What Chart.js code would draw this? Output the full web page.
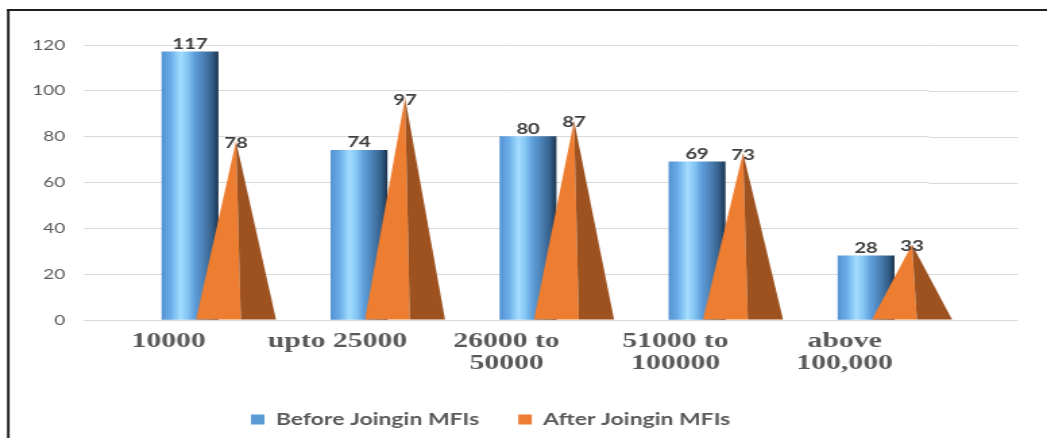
<!DOCTYPE html>
<html>
<head>
<meta charset="utf-8">
<script src="https://cdn.jsdelivr.net/npm/chart.js@4/dist/chart.umd.min.js"></script>
<style>
  html, body { margin: 0; padding: 0; background: #ffffff; overflow: hidden; }
</style>
</head>
<body>
<canvas id="c" width="776" height="438" style="display:block;width:1047px;height:438px"></canvas>
<script>
// ---- data ----
const categories = ['10000', 'upto 25000', ['26000 to', '50000'], ['51000 to', '100000'], ['above', '100,000']];
const beforeValues = [117, 74, 80, 69, 28];
const afterValues = [78, 97, 87, 73, 33];
const yTickValues = [0, 20, 40, 60, 80, 100, 120];
const seriesNames = ['Before Joingin MFIs', 'After Joingin MFIs'];

// ---- styles ----
const BEFORE_W = 41.5, AFTER_W = 59.3;
const BEFORE_SHIFT = 15.9, AFTER_SHIFT = 50;
const GRID_EXT_RIGHT = 754.5;
const PAD = { left: 14, right: 87.4, top: 45, bottom: 0 };
const PLOT_LEFT = 62.3, PLOT_BOTTOM = 320;
const LEGEND_CENTER = 363.6;
const ORANGE = '#ED7D31', ORANGE_DARK = '#9E5220', BLUE = '#5B9BD5';

function beforeFill(c) {
  if (c.type !== 'data') return BLUE;
  const chart = c.chart;
  const xs = chart.scales && chart.scales.x;
  if (!xs) return BLUE;
  const x = xs.getPixelForValue(c.dataIndex);
  if (!isFinite(x)) return BLUE;
  const g = chart.ctx.createLinearGradient(x - BEFORE_W / 2, 0, x + BEFORE_W / 2, 0);
  g.addColorStop(0.00, '#5593d2');
  g.addColorStop(0.15, '#69ace8');
  g.addColorStop(0.33, '#a3ddff');
  g.addColorStop(0.45, '#86c6f4');
  g.addColorStop(0.58, '#5f9fdc');
  g.addColorStop(0.75, '#4a7fb3');
  g.addColorStop(0.90, '#335e88');
  g.addColorStop(1.00, '#1d3551');
  return g;
}

const depthPlugin = {
  id: 'depth',
  afterLayout(chart) {
    const lg = chart.legend;
    if (lg) {
      const d = LEGEND_CENTER - (lg.left + lg.right) / 2;
      lg.left += d; lg.right += d;
    }
  },
  beforeDraw(chart) {
    const ctx = chart.ctx;
    ctx.save();
    ctx.fillStyle = '#1e1e1e';
    ctx.fillRect(5.2, 9, chart.width, 2);
    ctx.fillRect(5.2, 9, 1.9, chart.height);
    const ys = chart.scales.y;
    ctx.strokeStyle = '#d9d9d9';
    ctx.lineWidth = 1;
    ys.ticks.forEach(t => {
      const y = Math.round(ys.getPixelForValue(t.value)) + 0.5;
      ctx.beginPath();
      ctx.moveTo(chart.chartArea.right, y);
      ctx.lineTo(GRID_EXT_RIGHT, y);
      ctx.stroke();
    });
    ctx.restore();
  },
  beforeDatasetDraw(chart, args) {
    if (args.index === 0) {
      chart.ctx.save();
      chart.ctx.translate(BEFORE_SHIFT, 0);
    }
    if (args.index === 1) return false;
  },
  afterDatasetDraw(chart, args) {
    if (args.index === 0) chart.ctx.restore();
  },
  afterDatasetsDraw(chart) {
    const ctx = chart.ctx;
    ctx.save();
    const m1 = chart.getDatasetMeta(1);
    m1.data.forEach(el => {
      const p = el.getProps(['x', 'y', 'base', 'width'], true);
      const cx = p.x + AFTER_SHIFT;
      const l = cx - p.width / 2, r = cx + p.width / 2, split = cx + p.width * 0.06;
      ctx.fillStyle = ORANGE;
      ctx.beginPath(); ctx.moveTo(l, p.base); ctx.lineTo(cx, p.y); ctx.lineTo(split, p.base); ctx.closePath(); ctx.fill();
      ctx.fillStyle = ORANGE_DARK;
      ctx.beginPath(); ctx.moveTo(split, p.base); ctx.lineTo(cx, p.y); ctx.lineTo(r, p.base); ctx.closePath(); ctx.fill();
    });
    ctx.font = 'bold 15px Lato';
    ctx.fillStyle = '#404040';
    ctx.textAlign = 'center';
    ctx.textBaseline = 'middle';
    const m0 = chart.getDatasetMeta(0);
    m0.data.forEach((el, i) => {
      const p = el.getProps(['x', 'y'], true);
      ctx.fillText(String(beforeValues[i]), p.x + BEFORE_SHIFT, p.y - 8);
    });
    m1.data.forEach((el, i) => {
      const p = el.getProps(['x', 'y'], true);
      ctx.fillText(String(afterValues[i]), p.x + AFTER_SHIFT, p.y + 2);
    });
    ctx.restore();
  }
};

new Chart(document.getElementById('c'), {
  type: 'bar',
  data: {
    labels: categories,
    datasets: [
      { label: seriesNames[0], data: beforeValues, backgroundColor: beforeFill, borderWidth: 0,
        barThickness: BEFORE_W, clip: false },
      { label: seriesNames[1], data: afterValues, backgroundColor: ORANGE, borderWidth: 0,
        barThickness: AFTER_W, clip: false }
    ]
  },
  options: {
    responsive: false,
    devicePixelRatio: 1,
    animation: false,
    grouped: false,
    layout: { padding: PAD },
    scales: {
      x: {
        grid: { display: false },
        border: { display: false },
        ticks: {
          font: { family: 'Liberation Serif', weight: 'bold', size: 22, lineHeight: 1 },
          color: '#595959',
          padding: 2,
          maxRotation: 0, minRotation: 0, autoSkip: false
        },
        afterFit(s) { s.height = 438 - PLOT_BOTTOM - s.chart.legend.height - PAD.bottom; }
      },
      y: {
        min: yTickValues[0],
        max: yTickValues[yTickValues.length - 1],
        afterBuildTicks(s) { s.ticks = yTickValues.map(v => ({ value: v })); },
        grid: { color: '#d9d9d9', drawTicks: false },
        border: { display: false },
        ticks: { font: { family: 'Lato', size: 14 }, color: '#595959', padding: 14 },
        afterFit(s) { s.width = PLOT_LEFT - PAD.left; }
      }
    },
    plugins: {
      legend: {
        position: 'bottom',
        labels: {
          font: { family: 'Lato', weight: 'bold', size: 17 },
          color: '#595959',
          boxWidth: 10, boxHeight: 10,
          padding: 29,
          generateLabels(chart) {
            const items = Chart.defaults.plugins.legend.labels.generateLabels(chart);
            items.forEach(it => {
              const c = it.datasetIndex === 0 ? BLUE : ORANGE;
              it.fillStyle = c; it.strokeStyle = c; it.lineWidth = 0;
            });
            return items;
          }
        }
      },
      tooltip: { enabled: false }
    }
  },
  plugins: [depthPlugin]
});
</script>
</body>
</html>
